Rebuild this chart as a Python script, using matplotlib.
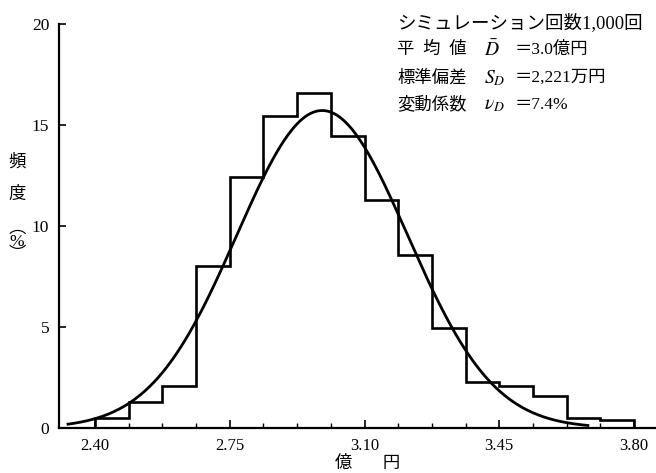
import numpy as np
import matplotlib
matplotlib.use('Agg')
import matplotlib.pyplot as plt
from matplotlib.ticker import FixedLocator

plt.rcParams['font.family'] = ['Liberation Serif', 'Noto Sans CJK JP']
plt.rcParams['mathtext.fontset'] = 'stix'

# ---- data ----
bin_edges = [2.40, 2.4875, 2.575, 2.6625, 2.75, 2.8375, 2.925, 3.0125, 3.10,
             3.1875, 3.275, 3.3625, 3.45, 3.5375, 3.625, 3.7125, 3.80]
freq_pct = [0.5, 1.3, 2.1, 8.0, 12.45, 15.45, 16.6, 14.45, 11.3, 8.55,
            4.95, 2.3, 2.1, 1.6, 0.5, 0.4]
fit_mean = 2.99      # 億円
fit_sd = 0.2221      # 億円 (2,221万円)
fit_range = [2.33, 3.68]

x_ticks = [2.40, 2.75, 3.10, 3.45, 3.80]
x_ticklabels = ['2.40', '2.75', '3.10', '3.45', '3.80']
y_ticks = [0, 5, 10, 15, 20]
y_ticklabels = ['0', '5', '10', '15', '20']

x_label = '億\u3000   円'
y_label_parts = ['頻', '度', '︵\n%\n︶']

note_title = 'シミュレーション回数1,000回'
stat_names = ['平\u2002均\u2002値', '標準偏差', '変動係数']
stat_symbols = [r'$\bar{D}$', r'$S_D$', r'$\nu_D$']
stat_values = ['＝3.0億円', '＝2,221万円', '＝7.4%']

# ---- figure ----
W, H = 656, 473
fig = plt.figure(figsize=(W / 100, H / 100), dpi=100)
ax = fig.add_axes([59 / W, 1 - 428 / H, (W - 59) / W, (428 - 24) / H])

def fx(px):
    return px / W

def fy(py):
    return 1 - py / H

# histogram outline
ax.stairs(freq_pct, bin_edges, baseline=0, color='black', lw=1.9)

# fitted normal curve
bin_w = bin_edges[1] - bin_edges[0]
xs = np.linspace(fit_range[0], fit_range[1], 400)
ys = bin_w * 100 / (fit_sd * np.sqrt(2 * np.pi)) * np.exp(-0.5 * ((xs - fit_mean) / fit_sd) ** 2)
ax.plot(xs, ys, color='black', lw=2.0)

ax.set_xlim(2.3065, 3.857)
ax.set_ylim(0, 20)

ax.spines['top'].set_visible(False)
ax.spines['right'].set_visible(False)
ax.spines['left'].set_linewidth(1.6)
ax.spines['bottom'].set_linewidth(1.6)

ax.xaxis.set_major_locator(FixedLocator(x_ticks))
ax.set_xticklabels(x_ticklabels)
ax.xaxis.set_minor_locator(FixedLocator(bin_edges))
ax.yaxis.set_major_locator(FixedLocator(y_ticks))
ax.set_yticklabels(y_ticklabels)

ax.tick_params(axis='x', which='major', direction='in', length=6, width=1.2,
               pad=7, labelsize=12)
ax.tick_params(axis='x', which='minor', direction='in', length=3.5, width=1.0)
ax.tick_params(axis='y', which='major', direction='in', length=5, width=1.2,
               pad=7, labelsize=12.5)

ax.set_xlabel(x_label, fontsize=12.5)
ax.xaxis.set_label_coords((367.5 - 59) / (W - 59), -0.068)

# y label (vertical writing)
y_label_pos = [162, 195, 242]
for part, py in zip(y_label_parts, y_label_pos):
    fig.text(fx(17), fy(py), part, ha='center', va='center', fontsize=12.5,
             multialignment='center', linespacing=0.75)

# annotation block
fig.text(fx(397), fy(23), note_title, ha='left', va='center', fontsize=13.3)
rows_y = [50, 78, 105]
for name, sym, val, py in zip(stat_names, stat_symbols, stat_values, rows_y):
    fig.text(fx(397), fy(py), name, ha='left', va='center', fontsize=12.5)
    fig.text(fx(484), fy(py), sym, ha='left', va='center', fontsize=14)
    fig.text(fx(515), fy(py), val, ha='left', va='center', fontsize=12.5)

fig.savefig('out.png', dpi=100)
